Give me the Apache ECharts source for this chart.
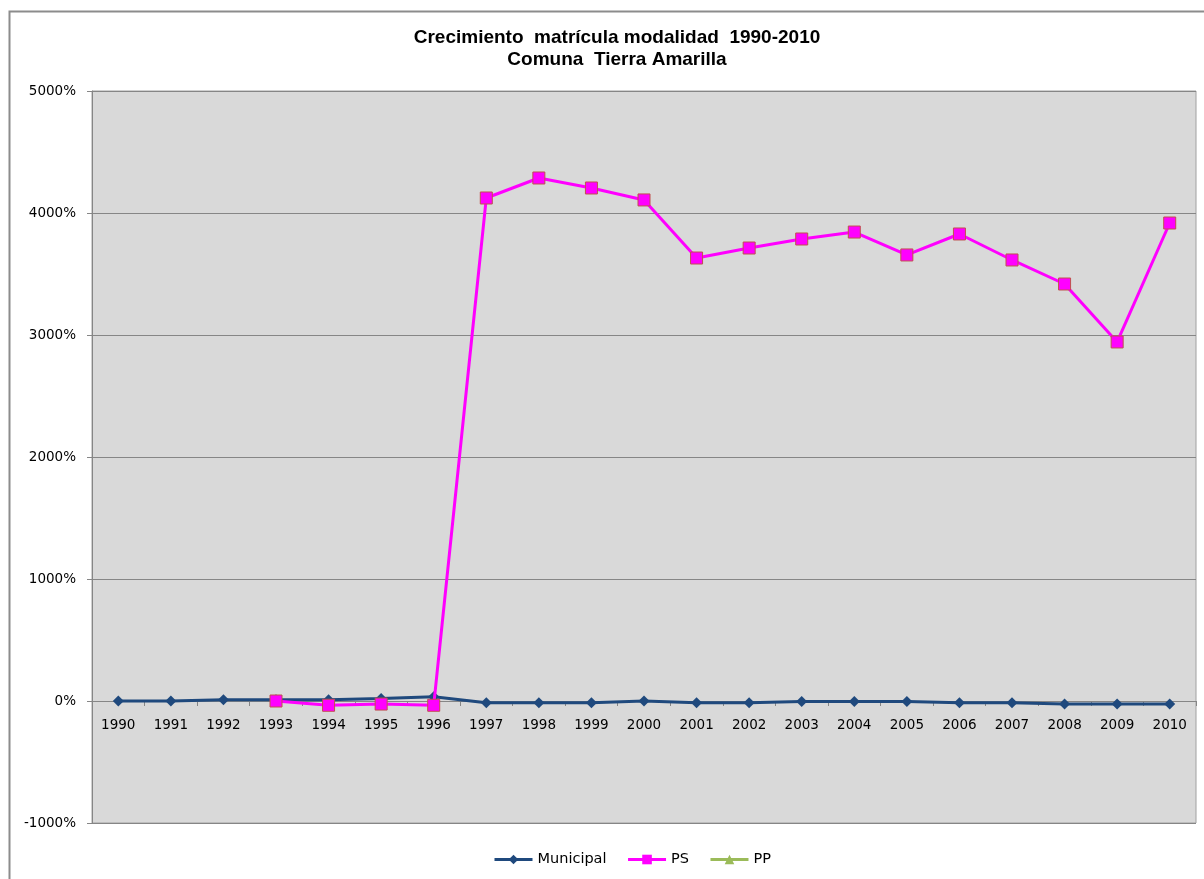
<!DOCTYPE html>
<html><head><meta charset="utf-8">
<script src="https://cdn.jsdelivr.net/npm/echarts@6/dist/echarts.min.js"></script>
<style>html,body{margin:0;padding:0;background:#fff}#c{width:1204px;height:879px}</style>
</head><body><div id="c"></div>
<script>
const years = ['1990','1991','1992','1993','1994','1995','1996','1997','1998','1999','2000','2001','2002','2003','2004','2005','2006','2007','2008','2009','2010'];
const municipal = [0,0,10,10,10,20,35,-15,-15,-15,0,-15,-15,-5,-5,-5,-15,-15,-25,-25,-25];
const ps = [null,null,null,0,-35,-25,-35,4123,4287,4205,4107,3631,3713,3787,3844,3656,3828,3615,3418,2943,3918];
const pp = [null,null,null,null,null,null,null,null,null,null,null,null,null,null,null,null,null,null,null,null,null];
const yTicks = {min:-1000, max:5000, interval:1000};

const chart = echarts.init(document.getElementById('c'), null, {renderer:'canvas'});
const font = 'Liberation Sans, Arial, sans-serif';
const gridTop = 91, gridBottom = 56, chartH = 879;
const plotH = chartH - gridTop - gridBottom;
const zeroOffset = -plotH * (0 - yTicks.min) / (yTicks.max - yTicks.min);
chart.setOption({
  animation:false,
  backgroundColor:'#fff',
  title:{
    text:'Crecimiento  matrícula modalidad  1990-2010\nComuna  Tierra Amarilla',
    left:612, top:22, textAlign:'center',
    textStyle:{fontFamily:font, fontWeight:'bold', fontSize:19, color:'#000', lineHeight:22}
  },
  graphic:[{type:'rect', shape:{x:9.5,y:11.5,width:1200,height:880}, style:{fill:null, stroke:'#8c8c8c', lineWidth:2}, silent:true}],
  legend:{
    bottom:7, left:488, itemWidth:38, itemHeight:12, itemGap:20, itemStyle:{borderWidth:0},
    lineStyle:{width:3},
    textStyle:{fontFamily:'DejaVu Sans, sans-serif', fontSize:14.5, color:'#000'},
    data:['Municipal','PS','PP']
  },
  grid:{left:92, right:8, top:gridTop, bottom:gridBottom, show:true, backgroundColor:'#d9d9d9', borderColor:'#a0a0a0', borderWidth:1},
  xAxis:{
    type:'category', data:years, boundaryGap:true, position:'bottom', offset:zeroOffset,
    axisLine:{onZero:false, lineStyle:{color:'#868686', width:1}},
    axisTick:{show:true, inside:false, length:5, lineStyle:{color:'#868686'}},
    axisLabel:{fontFamily:'DejaVu Sans, sans-serif', fontSize:13.5, color:'#000', margin:17},
    splitLine:{show:false}
  },
  yAxis:{
    type:'value', min:yTicks.min, max:yTicks.max, interval:yTicks.interval,
    axisLine:{show:true, lineStyle:{color:'#868686'}},
    axisTick:{show:true, length:5, lineStyle:{color:'#868686'}},
    axisLabel:{fontFamily:'DejaVu Sans, sans-serif', fontSize:13.5, color:'#000', margin:16, formatter:v=>v+'%'},
    splitLine:{show:true, lineStyle:{color:'#868686', width:1}}
  },
  series:[
    {name:'Municipal', type:'line', data:municipal, symbol:'diamond', symbolSize:11,
     lineStyle:{color:'#1f497d', width:3}, itemStyle:{color:'#1f497d'}, z:3},
    {name:'PS', type:'line', data:ps, symbol:'rect', symbolSize:12,
     lineStyle:{color:'#ff00ff', width:3}, itemStyle:{color:'#ff00ff', borderColor:'#c0504d', borderWidth:1}, z:4},
    {name:'PP', type:'line', data:pp, symbol:'triangle', symbolSize:10,
     lineStyle:{color:'#9bbb59', width:3}, itemStyle:{color:'#9bbb59'}, z:2}
  ]
});
</script></body></html>
